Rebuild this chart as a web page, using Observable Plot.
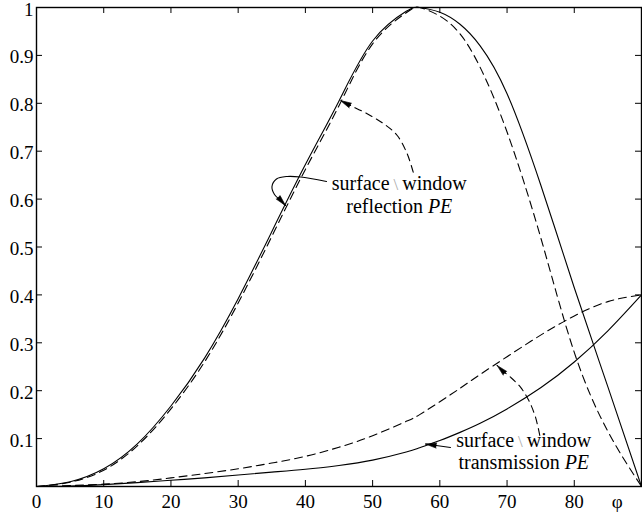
<!DOCTYPE html>
<html><head><meta charset="utf-8">
<script src="https://cdn.jsdelivr.net/npm/d3@7"></script>
<script src="https://cdn.jsdelivr.net/npm/@observablehq/plot@0.6"></script>
<style>body{margin:0;background:#fff}</style>
</head><body><div id="chart"></div>
<script>
// angle of incidence (degrees)
const phi          = [0, 5, 10, 15, 20, 25, 30, 35, 40, 45, 50, 55, 57, 60, 63, 66, 70, 75, 80, 85, 90];
// reflection PE
const reflSurface  = [0, 0.010, 0.037, 0.089, 0.168, 0.268, 0.392, 0.532, 0.672, 0.805, 0.930, 0.992, 1.000, 0.990, 0.965, 0.920, 0.820, 0.630, 0.415, 0.208, 0];
const reflWindow   = [0, 0.009, 0.034, 0.085, 0.162, 0.260, 0.383, 0.522, 0.662, 0.795, 0.924, 0.989, 1.000, 0.982, 0.945, 0.875, 0.740, 0.520, 0.280, 0.115, 0];
// transmission PE
const transSurface = [0, 0.001, 0.004, 0.008, 0.013, 0.018, 0.024, 0.030, 0.036, 0.044, 0.055, 0.072, 0.081, 0.096, 0.113, 0.132, 0.162, 0.206, 0.260, 0.325, 0.400];
const transWindow  = [0, 0.002, 0.005, 0.010, 0.018, 0.027, 0.037, 0.049, 0.063, 0.082, 0.106, 0.136, 0.150, 0.177, 0.205, 0.234, 0.271, 0.316, 0.356, 0.386, 0.400];

// tick labels
const xTicks = [0, 10, 20, 30, 40, 50, 60, 70, 80];
const xInnerTicks = [10, 20, 30, 40, 50, 60, 70, 80];
const yTicks = [0.1, 0.2, 0.3, 0.4, 0.5, 0.6, 0.7, 0.8, 0.9, 1];
const yInnerTicks = [0.1, 0.2, 0.3, 0.4, 0.5, 0.6, 0.7, 0.8, 0.9];
const xAxisLabel = "φ";
const xAxisLabelAt = 86.4;

// annotation texts (two lines each)
const annotations = [
  {x: 53.97, y: 0.572, text: "surface\u2009\\\u2009window\nreflection PE"},
  {x: 72.49, y: 0.0355, text: "surface\u2009\\\u2009window\ntransmission PE"}
];

// annotation arrows (data coordinates)
const arrowReflSurfX = [43.14, 39.27, 37.29, 35.70, 35.03, 35.40, 36.30, 37.04];
const arrowReflSurfY = [0.6367, 0.6461, 0.6472, 0.6420, 0.6263, 0.6096, 0.5971, 0.5866];
const arrowReflWinX  = [56.04, 55.14, 53.66, 51.66, 49.19, 46.71, 45.22];
const arrowReflWinY  = [0.6562, 0.6946, 0.7328, 0.7572, 0.7781, 0.7954, 0.8058];
const arrowTransSurfX = [61.59, 57.87];
const arrowTransSurfY = [0.0814, 0.0887];
const arrowTransWinX = [74.87, 74.23, 73.24, 72.00, 70.51, 69.28, 68.53];
const arrowTransWinY = [0.1065, 0.1447, 0.1795, 0.2073, 0.2282, 0.2422, 0.2526];
const arrowHeads = [
  {x: 37.04, y: 0.5866, angle: 138},
  {x: 45.22, y: 0.8058, angle: -63},
  {x: 57.87, y: 0.0887, angle: -82},
  {x: 68.53, y: 0.2526, angle: -45}
];

const W = 642, H = 514, mT = 7, mB = 28, mL = 36, mR = 1;
const plotW = W - mL - mR, plotH = H - mT - mB, tick = 6;

const series = (ys) => phi.map((x, i) => ({x, y: ys[i]}));
const pts = (xs, ys) => xs.map((x, i) => ({x, y: ys[i]}));
const font = "'Liberation Serif', 'Times New Roman', serif";

const chart = Plot.plot({
  width: W, height: H,
  marginTop: mT, marginBottom: mB, marginLeft: mL, marginRight: mR,
  style: {fontFamily: font, fontSize: "19px", background: "#fff", color: "#000"},
  x: {domain: [0, 90], label: null},
  y: {domain: [0, 1], label: null},
  marks: [
    // curves
    Plot.line(series(reflSurface), {x: "x", y: "y", curve: "natural", stroke: "black", strokeWidth: 1.1}),
    Plot.line(series(reflWindow), {x: "x", y: "y", curve: "natural", stroke: "black", strokeWidth: 1.1, strokeDasharray: "8,5"}),
    Plot.line(series(transSurface), {x: "x", y: "y", curve: "natural", stroke: "black", strokeWidth: 1.1}),
    Plot.line(series(transWindow), {x: "x", y: "y", curve: "natural", stroke: "black", strokeWidth: 1.1, strokeDasharray: "8,5"}),
    // annotation arrows
    Plot.line(pts(arrowReflSurfX, arrowReflSurfY), {x: "x", y: "y", curve: "catmull-rom", stroke: "black", strokeWidth: 1.1}),
    Plot.line(pts(arrowReflWinX, arrowReflWinY), {x: "x", y: "y", curve: "catmull-rom", stroke: "black", strokeWidth: 1.1, strokeDasharray: "7,5"}),
    Plot.line(pts(arrowTransSurfX, arrowTransSurfY), {x: "x", y: "y", stroke: "black", strokeWidth: 1.1}),
    Plot.line(pts(arrowTransWinX, arrowTransWinY), {x: "x", y: "y", curve: "catmull-rom", stroke: "black", strokeWidth: 1.1, strokeDasharray: "7,5"}),
    Plot.vector(arrowHeads, {x: "x", y: "y", rotate: "angle", length: 11, r: 2.6, shape: "spike", anchor: "end", fill: "black", stroke: "black", strokeWidth: 0.6}),
    // labels
    Plot.text(annotations, {x: "x", y: "y", text: "text", textAnchor: "middle", lineAnchor: "bottom", lineHeight: 1.12, fontSize: 20, className: "annot"}),
    // frame and inward ticks
    Plot.frame({stroke: "black", strokeWidth: 1.4}),
    Plot.ruleX(xInnerTicks, {x: d => d, insetTop: plotH - tick, stroke: "black"}),
    Plot.ruleX(xInnerTicks, {x: d => d, insetBottom: plotH - tick, stroke: "black"}),
    Plot.ruleY(yInnerTicks, {y: d => d, insetRight: plotW - tick, stroke: "black"}),
    Plot.ruleY(yInnerTicks, {y: d => d, insetLeft: plotW - tick, stroke: "black"}),
    // axes labels
    Plot.axisX(xTicks, {tickSize: 0, tickPadding: 8, fontSize: 19, tickFormat: d => String(d), label: null}),
    Plot.axisY(yTicks, {tickSize: 0, tickPadding: 3, dy: 2, fontSize: 19, tickFormat: d => String(d), label: null}),
    Plot.text([xAxisLabelAt], {x: d => d, frameAnchor: "bottom", lineAnchor: "top", dy: 8, text: () => xAxisLabel, fontSize: 19})
  ]
});

// style parts of annotation lines: grey separator, italic "PE"
const NS = "http://www.w3.org/2000/svg";
chart.querySelectorAll(".annot text > tspan").forEach(line => {
  const s = line.textContent;
  const sep = s.indexOf("\\");
  if (sep >= 0) {
    line.textContent = "";
    line.appendChild(document.createTextNode(s.slice(0, sep)));
    const ts = document.createElementNS(NS, "tspan");
    ts.setAttribute("fill", "#aaa");
    ts.setAttribute("font-size", "17");
    ts.textContent = "\\";
    line.appendChild(ts);
    line.appendChild(document.createTextNode(s.slice(sep + 1)));
  } else if (s.endsWith(" PE")) {
    line.textContent = "";
    line.appendChild(document.createTextNode(s.slice(0, -2)));
    const ts = document.createElementNS(NS, "tspan");
    ts.setAttribute("font-style", "italic");
    ts.textContent = "PE";
    line.appendChild(ts);
  }
});
document.getElementById("chart").appendChild(chart);
</script>
</body></html>
